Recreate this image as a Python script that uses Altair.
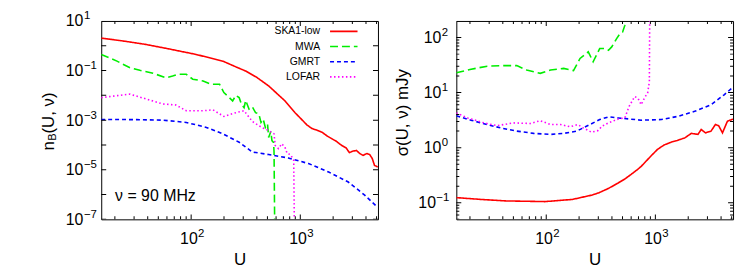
import math
import altair as alt
import pandas as pd

FONT = "Liberation Sans"

SERIES = ["SKA1-low", "MWA", "GMRT", "LOFAR"]
COLORS = ["#ff0000", "#00ee00", "#0000ff", "#ff00ff"]
DASHES = [[1, 0], [8, 4], [4, 3], [1.5, 2.5]]

X_DOMAIN = [15, 5150]
NB_DOMAIN = [1e-7, 10]
SIG_DOMAIN = [0.05, 200]

# tick positions and tick label pieces ("10" + superscript exponent)
X_MAJOR = [100, 1000]
X_BASE = ["10", "10"]
X_EXP = ["2", "3"]
X_MINOR = [20, 30, 40, 50, 60, 70, 80, 90, 200, 300, 400, 500, 600, 700, 800, 900,
           2000, 3000, 4000, 5000]
NB_MAJOR = [10, 1, 0.1, 0.01, 1e-3, 1e-4, 1e-5, 1e-6, 1e-7]
NB_BASE = ["10", "", "10", "", "10", "", "10", "", "10"]
NB_EXP = ["1", "", "−1", "", "−3", "", "−5", "", "−7"]
SIG_MAJOR = [0.1, 1, 10, 100]
SIG_POS = [1, 10, 100]
SIG_POS_BASE = ["10", "10", "10"]
SIG_POS_EXP = ["0", "1", "2"]
SIG_NEG = [0.1]
SIG_NEG_BASE = ["10"]
SIG_NEG_EXP = ["−1"]
SIG_MINOR = [0.05, 0.06, 0.07, 0.08, 0.09, 0.2, 0.3, 0.4, 0.5, 0.6, 0.7, 0.8, 0.9,
             2, 3, 4, 5, 6, 7, 8, 9, 20, 30, 40, 50, 60, 70, 80, 90, 200]

# ---- left panel: n_B(U, nu) ----
SKA_NB_U = [15, 25.1, 38.9, 63.1, 110.9, 195, 257, 316, 398, 513, 724, 891, 1148, 1276, 1413,
            1585, 1778, 1950, 2138, 2399, 2630, 2818, 3020, 3273, 3508, 3758, 4074, 4325, 4571,
            4786, 5129]
SKA_NB = [2.04, 1.51, 1.12, 0.741, 0.447, 0.24, 0.141, 0.0955, 0.0537, 0.024, 6.0e-3, 2.04e-3,
          6.5e-4, 4.6e-4, 3.98e-4, 3.24e-4, 2.24e-4, 1.78e-4, 1.41e-4, 9.5e-5, 7.6e-5, 4.9e-5,
          5.6e-5, 6.0e-5, 4.5e-5, 3.8e-5, 4.5e-5, 4.1e-5, 2.8e-5, 1.5e-5, 1.3e-5]
MWA_NB_U = [15, 20.9, 27.5, 33.9, 44.7, 58.9, 67.6, 75.9, 90.2, 103.5, 128.8, 151.4, 182, 199.5,
            218.8, 239.9, 257, 275.4, 288.4, 305.5, 316, 338.8, 363, 389, 417, 436.5, 457, 478.6,
            501, 513, 537, 550, 569, 575, 582]
MWA_NB = [0.447, 0.24, 0.129, 0.102, 0.0776, 0.0513, 0.0603, 0.0708, 0.0708, 0.0447, 0.038,
          0.0282, 0.0282, 0.0129, 8.9e-3, 6.0e-3, 0.01, 8.1e-3, 4.5e-3, 3.2e-3, 6.3e-3, 2.8e-3,
          3.5e-3, 2.0e-3, 1.8e-3, 8.1e-4, 1.1e-3, 5.1e-4, 7.1e-4, 2.0e-4, 3.5e-4, 1.5e-4,
          1.26e-4, 5.1e-5, 1e-7]
GMRT_NB_U = [15, 31.6, 55, 90.2, 138, 195, 275.4, 363, 513, 776, 1189, 1820, 2754, 3890, 5129]
GMRT_NB = [1.07e-3, 1.05e-3, 1.0e-3, 8.1e-4, 5.1e-4, 2.8e-4, 1.29e-4, 5.2e-5, 4.1e-5, 3.0e-5,
           1.78e-5, 8.1e-6, 3.2e-6, 9.5e-7, 3.0e-7]
LOFAR_NB_U = [15, 20, 27.5, 38.9, 55, 72.4, 90.2, 128.8, 158.5, 199.5, 257, 305.5, 363, 446.7,
              501, 575, 589, 631, 676, 724, 759, 813, 871, 881]
LOFAR_NB = [8.1e-3, 9.5e-3, 0.0112, 7.1e-3, 4.5e-3, 4.1e-3, 2.4e-3, 2.4e-3, 2.6e-3, 1.41e-3,
            2.0e-3, 2.4e-3, 8.9e-4, 5.0e-4, 4.0e-4, 2.8e-4, 9.5e-5, 7.1e-5, 1.12e-4, 8.1e-5,
            4.5e-5, 4.1e-5, 2.4e-5, 1e-7]

# ---- right panel: sigma(U, nu) mJy ----
SKA_SIG_U = [15, 25.1, 42.7, 97.7, 173.8, 263, 302, 371.5, 457, 525, 603, 692, 741, 912, 1047,
             1202, 1396, 1585, 1862, 2138, 2291, 2455, 2630, 2884, 3236, 3548, 3802, 4121, 4571,
             5012, 5150]
SKA_SIG = [0.124, 0.115, 0.108, 0.105, 0.115, 0.138, 0.151, 0.182, 0.229, 0.27, 0.33, 0.407,
           0.457, 0.708, 0.933, 1.12, 1.26, 1.35, 1.51, 1.82, 1.78, 1.74, 2.14, 1.86, 2.0, 2.63,
           2.51, 1.86, 3.02, 3.24, 3.3]
GMRT_SIG_U = [15, 20.4, 28.8, 38, 53.7, 76.7, 109.6, 144.5, 190.5, 251.2, 309, 371.5, 457, 741,
              1135, 1622, 2291, 3236, 4266, 5012, 5150]
GMRT_SIG = [3.8, 3.16, 2.63, 2.29, 2.0, 1.82, 1.74, 1.82, 2.0, 2.63, 3.24, 3.63, 3.47, 3.16, 3.24,
            3.72, 4.57, 6.03, 9.12, 12.0, 12.9]
LOFAR_SIG_U = [15, 19.1, 26.9, 35.5, 50.1, 71.6, 88.1, 109.6, 134.9, 166, 195, 218.8, 260, 298.5,
               323.6, 371.5, 457, 525, 575, 646, 692, 741, 794, 851, 881, 891]
LOFAR_SIG = [4.27, 3.47, 2.82, 2.51, 2.82, 2.75, 3.09, 2.63, 2.63, 2.4, 2.63, 2.29, 1.91, 2.04,
             2.45, 2.82, 3.31, 3.47, 5.62, 8.5, 7.94, 6.03, 7.94, 10, 15.8, 1000]
MWA_SIG_U = [15, 20, 28.8, 39.8, 53.7, 66.1, 88.1, 109.6, 144.5, 177.8, 204, 242.7, 269, 309,
             346.7, 371.5, 398, 441.6, 473, 501, 525, 582]
MWA_SIG = [22.9, 26.3, 30.2, 30.9, 30.9, 25.7, 22.4, 25.7, 27.5, 25.1, 41.7, 55, 36.3, 63.1, 63.1,
           58.9, 67.6, 95.5, 117.5, 126, 166, 1000]

W, H = 279, 200
MAJOR_LEN, MINOR_LEN = 5, 3
BASE_SIZE, EXP_SIZE = 16, 11.5


def frame(pairs):
    rows = []
    for name, us, vs in pairs:
        for u, v in zip(us, vs):
            rows.append({"U": u, "v": v, "series": name})
    return pd.DataFrame(rows)


df_nb = frame([("SKA1-low", SKA_NB_U, SKA_NB), ("MWA", MWA_NB_U, MWA_NB),
               ("GMRT", GMRT_NB_U, GMRT_NB), ("LOFAR", LOFAR_NB_U, LOFAR_NB)])
df_sig = frame([("SKA1-low", SKA_SIG_U, SKA_SIG), ("MWA", MWA_SIG_U, MWA_SIG),
                ("GMRT", GMRT_SIG_U, GMRT_SIG), ("LOFAR", LOFAR_SIG_U, LOFAR_SIG)])
ONE = pd.DataFrame({"a": [0]})


def label_expr(values, labels):
    expr = "''"
    for v, t in zip(values, labels):
        e = round(math.log10(v))
        expr = f"(round(log(datum.value)/LN10) == {e}) ? '{t}' : ({expr})"
    return expr


def label_axis(orient, values, labels, size, pad, align=None, shift=0, title=""):
    kw = dict(orient=orient, values=values, ticks=False, tickSize=0, domain=False, grid=False,
              labelExpr=label_expr(values, labels), labelFont=FONT, labelFontSize=size,
              labelColor="black", labelPadding=pad, labelOffset=shift, labelOverlap=False,
              labelFlush=False, title=title)
    if align:
        kw["labelAlign"] = align
    if title:
        kw.update(titleFont=FONT, titleFontSize=17, titleFontWeight="normal",
                  titleColor="black", titlePadding=6)
    return alt.Axis(**kw)


def xticks(values, edge, xs, ys, length, axis):
    d = pd.DataFrame({"t": values, "e": [edge] * len(values)})
    return alt.Chart(d).mark_tick(orient="vertical", clip=True, size=2 * length, thickness=1,
                                  color="black", opacity=1).encode(
        x=alt.X("t:Q", scale=xs, axis=axis), y=alt.Y("e:Q", scale=ys, axis=None))


def yticks(values, edge, xs, ys, length, axis):
    d = pd.DataFrame({"t": values, "e": [edge] * len(values)})
    return alt.Chart(d).mark_tick(orient="horizontal", clip=True, size=2 * length, thickness=1,
                                  color="black", opacity=1).encode(
        y=alt.Y("t:Q", scale=ys, axis=axis), x=alt.X("e:Q", scale=xs, axis=None))


def text(s, x, y, size=16, angle=0, align="left", baseline="alphabetic"):
    return alt.Chart(ONE).mark_text(text=s, font=FONT, fontSize=size, color="black",
                                    align=align, baseline=baseline, angle=angle).encode(
        x=alt.value(x), y=alt.value(y))


def panel(df, ydom, y_major, y_groups, y_minor, extra):
    xs = alt.Scale(type="log", domain=X_DOMAIN, nice=False)
    ys = alt.Scale(type="log", domain=ydom, nice=False)
    lines = alt.Chart(df).mark_line(clip=True, strokeWidth=1.6).encode(
        x=alt.X("U:Q", scale=xs, axis=None),
        y=alt.Y("v:Q", scale=ys, axis=None),
        color=alt.Color("series:N", scale=alt.Scale(domain=SERIES, range=COLORS), legend=None),
        strokeDash=alt.StrokeDash("series:N", scale=alt.Scale(domain=SERIES, range=DASHES),
                                  legend=None),
    )
    layers = [
        lines,
        xticks(X_MAJOR, ydom[0], xs, ys, MAJOR_LEN,
               label_axis("bottom", X_MAJOR, X_BASE, BASE_SIZE, 11, shift=-2.8, title="U")),
        xticks(X_MAJOR, ydom[1], xs, ys, MAJOR_LEN,
               label_axis("bottom", X_MAJOR, X_EXP, EXP_SIZE, 8, align="left", shift=6.5)),
        xticks(X_MINOR, ydom[0], xs, ys, MINOR_LEN, None),
        xticks(X_MINOR, ydom[1], xs, ys, MINOR_LEN, None),
    ]
    axes = []
    for vals, base, exp, bpad, epad in y_groups:
        axes.append(label_axis("left", vals, base, BASE_SIZE, bpad))
        axes.append(label_axis("left", vals, exp, EXP_SIZE, epad, align="left", shift=-5))
    slots = [(y_major, MAJOR_LEN, X_DOMAIN[0]), (y_major, MAJOR_LEN, X_DOMAIN[1])]
    if y_minor:
        slots += [(y_minor, MINOR_LEN, X_DOMAIN[0]), (y_minor, MINOR_LEN, X_DOMAIN[1])]
    for i, (vals, length, edge) in enumerate(slots):
        layers.append(yticks(vals, edge, xs, ys, length, axes[i] if i < len(axes) else None))
    return alt.layer(*layers, *extra).resolve_axis(
        x="independent", y="independent").properties(width=W, height=H)


# legend (left panel, gnuplot style: label then sample line)
legend_layers = []
for i, (name, col, dash) in enumerate(zip(SERIES, COLORS, DASHES)):
    yy = 10.5 + i * 15.3
    legend_layers.append(text(name, 220.7, yy, size=10.5, align="right", baseline="middle"))
    legend_layers.append(
        alt.Chart(ONE).mark_rule(color=col, strokeDash=dash, strokeWidth=1.6).encode(
            x=alt.value(230.7), x2=alt.value(258.4), y=alt.value(yy)))

left_extra = legend_layers + [
    text("ν = 90 MHz", 14, 181.5, size=16),
    text("n", -47.8, 130.5, size=17, angle=270),
    text("B", -45.8, 120.8, size=11, angle=270),
    text("(U, ν)", -47.8, 113.5, size=17, angle=270),
]
right_extra = [text("σ(U, ν) mJy", -48.3, 136.5, size=17, angle=270)]

left = panel(df_nb, NB_DOMAIN, NB_MAJOR, [(NB_MAJOR, NB_BASE, NB_EXP, 18.5, 18)], None,
             left_extra)
right = panel(df_sig, SIG_DOMAIN, SIG_MAJOR,
              [(SIG_POS, SIG_POS_BASE, SIG_POS_EXP, 15.6, 15.3),
               (SIG_NEG, SIG_NEG_BASE, SIG_NEG_EXP, 21, 20.7)],
              SIG_MINOR, right_extra)

chart = alt.hconcat(left, right, spacing=79, bounds="flush").properties(
    padding={"left": 31, "top": 0, "right": 5, "bottom": 0}
).configure_view(stroke="black", strokeWidth=1)

chart.save("out.html", embed_options={"renderer": "svg", "actions": False})
